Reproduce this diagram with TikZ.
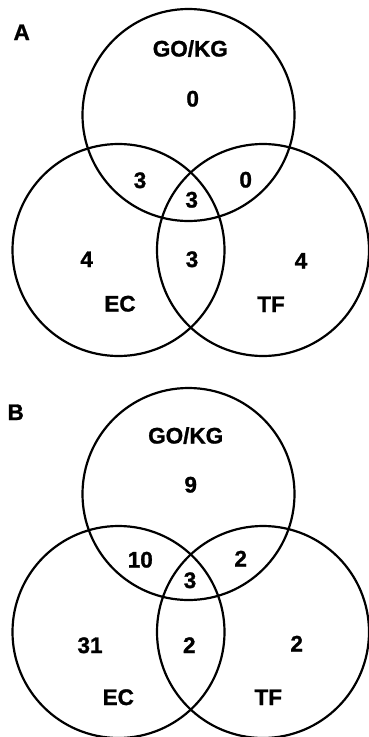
\documentclass[tikz,border=0pt]{standalone}
\usepackage{fontspec}
\setmainfont{Liberation Sans}[BoldFeatures={FakeBold=1.2}]
\begin{document}
\begin{tikzpicture}[x=1pt,y=-1pt,
  ring/.style={draw=black,line width=2.2pt},
  lbl/.style={anchor=base,inner sep=0pt,font=\fontsize{22.5}{26}\selectfont\bfseries}]
\useasboundingbox (0,0) rectangle (369,737);
% Panel A
\node[lbl] (la) at (21.7,40) {A};
\draw[ring] (188.5,115) circle [radius=106pt];
\draw[ring] (118.5,250) circle [radius=106pt];
\draw[ring] (263,250) circle [radius=106pt];
\node[lbl] (a1) at (190.3,56.5) {GO/KG};
\node[lbl] (a2) at (192.7,106.5) {0};
\node[lbl] (a3) at (140,188) {3};
\node[lbl] (a4) at (245.7,187.5) {0};
\node[lbl] (a5) at (191.7,207.5) {3};
\node[lbl] (a6) at (86.7,267) {4};
\node[lbl] (a7) at (192,267) {3};
\node[lbl] (a8) at (301,268.5) {4};
\node[lbl] (a9) at (120,311.5) {EC};
\node[lbl] (a10) at (271,312) {TF};
% Panel B
\node[lbl] (lb) at (15.7,420) {B};
\draw[ring] (188.5,494) circle [radius=106pt];
\draw[ring] (118.5,632) circle [radius=106pt];
\draw[ring] (263,632) circle [radius=106pt];
\node[lbl] (b1) at (185.7,443.5) {GO/KG};
\node[lbl] (b2) at (190.7,492.5) {9};
\node[lbl] (b3) at (140.3,567.5) {10};
\node[lbl] (b4) at (240.7,566.5) {2};
\node[lbl] (b5) at (190,588) {3};
\node[lbl] (b6) at (90,653) {31};
\node[lbl] (b7) at (189.3,653) {2};
\node[lbl] (b8) at (296.7,651.5) {2};
\node[lbl] (b9) at (118.3,705) {EC};
\node[lbl] (b10) at (268.3,705) {TF};
\end{tikzpicture}
\end{document}
